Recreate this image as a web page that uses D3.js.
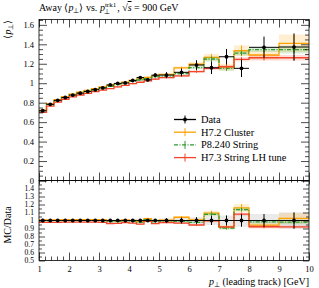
<!DOCTYPE html>
<html>
<head>
<meta charset="utf-8">
<script src="https://cdn.jsdelivr.net/npm/d3@7/dist/d3.min.js"></script>
<style>
  body { margin: 0; background: #fff; }
  svg { display: block; font-family: "Liberation Serif", serif; }
</style>
</head>
<body>
<script>
// bin edges (GeV)
var edges = [1, 1.25, 1.5, 1.75, 2, 2.25, 2.5, 2.75, 3, 3.25, 3.5, 3.75, 4, 4.25, 4.5, 4.75, 5,
             5.5, 6, 6.5, 7, 7.5, 8, 9, 10];

// measured <pT> per bin
var dataVals = [0.717, 0.783, 0.824, 0.853, 0.878, 0.898, 0.915, 0.933, 0.952, 0.982, 0.998, 1.003,
                1.028, 1.058, 1.035, 1.083, 1.084, 1.112, 1.187, 1.159, 1.272, 1.153, 1.369, 1.372];
var dataErr  = [0.015, 0.008, 0.007, 0.007, 0.007, 0.008, 0.008, 0.009, 0.010, 0.011, 0.012, 0.013,
                0.014, 0.015, 0.017, 0.020, 0.030, 0.040, 0.050, 0.065, 0.080, 0.090, 0.110, 0.140];

// generators
var h72Vals = [0.722, 0.789, 0.830, 0.862, 0.887, 0.908, 0.926, 0.943, 0.962, 0.978, 0.995, 1.012,
               1.030, 1.045, 1.060, 1.078, 1.090, 1.157, 1.195, 1.266, 1.166, 1.334, 1.290, 1.410];
var h72Err  = [0.003, 0.003, 0.003, 0.003, 0.003, 0.004, 0.004, 0.004, 0.005, 0.005, 0.006, 0.006,
               0.007, 0.008, 0.009, 0.010, 0.011, 0.015, 0.020, 0.035, 0.035, 0.055, 0.045, 0.090];
var p8Vals  = [0.715, 0.780, 0.822, 0.852, 0.878, 0.898, 0.915, 0.932, 0.950, 0.967, 0.985, 1.000,
               1.018, 1.033, 1.047, 1.065, 1.073, 1.100, 1.160, 1.249, 1.153, 1.310, 1.345, 1.345];
var p8Err   = [0.003, 0.003, 0.003, 0.003, 0.003, 0.003, 0.004, 0.004, 0.004, 0.005, 0.005, 0.006,
               0.006, 0.007, 0.008, 0.009, 0.010, 0.012, 0.016, 0.025, 0.025, 0.025, 0.025, 0.040];
var h73Vals = [0.700, 0.765, 0.805, 0.835, 0.860, 0.879, 0.896, 0.913, 0.930, 0.945, 0.962, 0.978,
               0.995, 1.010, 1.025, 1.042, 1.057, 1.075, 1.120, 1.153, 1.170, 1.245, 1.262, 1.262];
var h73Err  = [0.003, 0.003, 0.003, 0.003, 0.003, 0.003, 0.003, 0.004, 0.004, 0.004, 0.005, 0.005,
               0.006, 0.006, 0.007, 0.008, 0.009, 0.011, 0.013, 0.018, 0.018, 0.022, 0.028, 0.028];

var seriesNames = ['Data', 'H7.2 Cluster', 'P8.240 String', 'H7.3 String LH tune'];

// axis ticks
var xMajor = [1, 2, 3, 4, 5, 6, 7, 8, 9, 10];
var xMinor = [1.2, 1.4, 1.6, 1.8, 2.2, 2.4, 2.6, 2.8, 3.2, 3.4, 3.6, 3.8, 4.2, 4.4, 4.6, 4.8,
              5.2, 5.4, 5.6, 5.8, 6.2, 6.4, 6.6, 6.8, 7.2, 7.4, 7.6, 7.8, 8.2, 8.4, 8.6, 8.8,
              9.2, 9.4, 9.6, 9.8];
var yMainMajor = [0, 0.2, 0.4, 0.6, 0.8, 1, 1.2, 1.4, 1.6];
var yMainMinor = [0.05, 0.1, 0.15, 0.25, 0.3, 0.35, 0.45, 0.5, 0.55, 0.65, 0.7, 0.75, 0.85, 0.9, 0.95,
                  1.05, 1.1, 1.15, 1.25, 1.3, 1.35, 1.45, 1.5, 1.55, 1.65];
var yRatMajor = [0.5, 0.6, 0.7, 0.8, 0.9, 1, 1.1, 1.2, 1.3, 1.4, 1.5];
var yRatLabels = ['0.5', '0.6', '0.7', '0.8', '0.9', '1', '1.1', '1.2', '1.3', '1.4', ''];
var yRatMinor = [0.55, 0.65, 0.75, 0.85, 0.95, 1.05, 1.15, 1.25, 1.35, 1.45];

var colors = {data: '#000', h72: '#ffa200', p8: '#2e9a2e', h73: '#f2452a'};

(function() {

//setup canvas
var width = 319, height = 288;
var left = 39, right = 309, topY = 19.5, mid = 180.5, bottom = 260.5;

var svg = d3.select('body').append('svg')
    .attr('width', width)
    .attr('height', height);

var x = d3.scaleLinear().domain([1, 10]).range([left, right]);
var yMain = d3.scaleLinear().domain([0, 1.655]).range([mid, topY]);
var yRat = d3.scaleLinear().domain([0.5, 1.5]).range([bottom, mid]);

//build bin records
var bins = dataVals.map(function(v, i) {
    return {lo: edges[i], hi: edges[i + 1], c: (edges[i] + edges[i + 1]) / 2,
            d: v, de: dataErr[i],
            h72: h72Vals[i], h72e: h72Err[i],
            p8: p8Vals[i], p8e: p8Err[i],
            h73: h73Vals[i], h73e: h73Err[i]};
});

function stepPoints(getV, getE) {
    var pts = [];
    bins.forEach(function(b) {
        pts.push({x: b.lo, v: getV(b), e: getE(b)});
        pts.push({x: b.hi, v: getV(b), e: getE(b)});
    });
    return pts;
}

function drawMC(g, y, key, ratio, dash) {
    var getV = ratio ? function(b) { return b[key] / b.d; } : function(b) { return b[key]; };
    var getE = ratio ? function(b) { return b[key + 'e'] / b.d; } : function(b) { return b[key + 'e']; };
    var pts = stepPoints(getV, getE);
    var col = colors[key];

    g.append('path')
        .datum(pts)
        .attr('fill', col)
        .attr('fill-opacity', 0.18)
        .attr('d', d3.area().x(function(p) { return x(p.x); })
            .y0(function(p) { return y(p.v - p.e); })
            .y1(function(p) { return y(p.v + p.e); }));

    g.append('path')
        .datum(pts)
        .attr('fill', 'none')
        .attr('stroke', col)
        .attr('stroke-width', 1.3)
        .attr('stroke-dasharray', dash || null)
        .attr('d', d3.line().x(function(p) { return x(p.x); }).y(function(p) { return y(p.v); }));

    g.selectAll(null).data(bins).enter().append('line')
        .attr('stroke', col)
        .attr('stroke-width', 1)
        .attr('x1', function(b) { return x(b.c); })
        .attr('x2', function(b) { return x(b.c); })
        .attr('y1', function(b) { return y(getV(b) - getE(b)); })
        .attr('y2', function(b) { return y(getV(b) + getE(b)); });
}

function drawData(g, y, ratio) {
    var getV = ratio ? function() { return 1; } : function(b) { return b.d; };
    var getE = ratio ? function(b) { return b.de / b.d; } : function(b) { return b.de; };

    g.selectAll(null).data(bins).enter().append('line')
        .attr('stroke', '#000').attr('stroke-width', 1)
        .attr('x1', function(b) { return x(b.lo); })
        .attr('x2', function(b) { return x(b.hi); })
        .attr('y1', function(b) { return y(getV(b)); })
        .attr('y2', function(b) { return y(getV(b)); });

    g.selectAll(null).data(bins).enter().append('line')
        .attr('stroke', '#000').attr('stroke-width', 1)
        .attr('x1', function(b) { return x(b.c); })
        .attr('x2', function(b) { return x(b.c); })
        .attr('y1', function(b) { return y(getV(b) - getE(b)); })
        .attr('y2', function(b) { return y(getV(b) + getE(b)); });

    g.selectAll(null).data(bins).enter().append('circle')
        .attr('fill', '#000')
        .attr('r', 1.9)
        .attr('cx', function(b) { return x(b.c); })
        .attr('cy', function(b) { return y(getV(b)); });
}

//clip each panel
var defs = svg.append('defs');
defs.append('clipPath').attr('id', 'clipMain').append('rect')
    .attr('x', left).attr('y', topY).attr('width', right - left).attr('height', mid - topY);
defs.append('clipPath').attr('id', 'clipRat').append('rect')
    .attr('x', left).attr('y', mid).attr('width', right - left).attr('height', bottom - mid);

var gMain = svg.append('g').attr('clip-path', 'url(#clipMain)');
var gRat = svg.append('g').attr('clip-path', 'url(#clipRat)');

// data ratio band
gRat.append('path')
    .datum(stepPoints(function() { return 1; }, function(b) { return b.de / b.d; }))
    .attr('fill', '#d0d0d0').attr('fill-opacity', 0.45)
    .attr('d', d3.area().x(function(p) { return x(p.x); })
        .y0(function(p) { return yRat(p.v - p.e); })
        .y1(function(p) { return yRat(p.v + p.e); }));

drawMC(gMain, yMain, 'h72', false);
drawMC(gMain, yMain, 'p8', false, '4,1.5,1,1.5');
drawMC(gMain, yMain, 'h73', false);
drawData(gMain, yMain, false);

drawMC(gRat, yRat, 'h72', true);
drawMC(gRat, yRat, 'p8', true, '4,1.5,1,1.5');
drawMC(gRat, yRat, 'h73', true);
drawData(gRat, yRat, true);

//axes: inward ticks
function styleAxis(sel, fs) {
    sel.select('.domain').remove();
    sel.selectAll('.tick line').attr('stroke', '#000').attr('stroke-width', 0.7);
    sel.selectAll('.tick text').attr('font-size', fs || 8.5).attr('fill', '#000')
        .attr('font-family', '"Liberation Serif", serif');
}

function addAxis(axis, tx, ty, fs) {
    svg.append('g').attr('transform', 'translate(' + tx + ',' + ty + ')')
        .call(axis).call(styleAxis, fs);
}

var mainMinor = yMainMinor.filter(function(v) { return v < 1.655; });

// main panel y
addAxis(d3.axisLeft(yMain).tickValues(yMainMajor).tickSize(-8).tickPadding(5)
    .tickFormat(function(d) { return String(d); }), left, 0);
addAxis(d3.axisLeft(yMain).tickValues(mainMinor).tickSize(-4).tickFormat(''), left, 0);
addAxis(d3.axisRight(yMain).tickValues(yMainMajor).tickSize(-8).tickFormat(''), right, 0);
addAxis(d3.axisRight(yMain).tickValues(mainMinor).tickSize(-4).tickFormat(''), right, 0);
// main panel x (top and bottom)
addAxis(d3.axisTop(x).tickValues(xMajor).tickSize(-8).tickFormat(''), 0, topY);
addAxis(d3.axisTop(x).tickValues(xMinor).tickSize(-4).tickFormat(''), 0, topY);
addAxis(d3.axisBottom(x).tickValues(xMajor).tickSize(-8).tickFormat(''), 0, mid);
addAxis(d3.axisBottom(x).tickValues(xMinor).tickSize(-4).tickFormat(''), 0, mid);

// ratio panel y
addAxis(d3.axisLeft(yRat).tickValues(yRatMajor).tickSize(-6).tickPadding(5)
    .tickFormat(function(d, i) { return yRatLabels[i]; }), left, 0, 7.6);
addAxis(d3.axisLeft(yRat).tickValues(yRatMinor).tickSize(-3).tickFormat(''), left, 0);
addAxis(d3.axisRight(yRat).tickValues(yRatMajor).tickSize(-6).tickFormat(''), right, 0);
addAxis(d3.axisRight(yRat).tickValues(yRatMinor).tickSize(-3).tickFormat(''), right, 0);
// ratio panel x
addAxis(d3.axisTop(x).tickValues(xMajor).tickSize(-4).tickFormat(''), 0, mid);
addAxis(d3.axisTop(x).tickValues(xMinor).tickSize(-2).tickFormat(''), 0, mid);
addAxis(d3.axisBottom(x).tickValues(xMajor).tickSize(-8).tickPadding(5)
    .tickFormat(function(d) { return String(d); }), 0, bottom);
addAxis(d3.axisBottom(x).tickValues(xMinor).tickSize(-4).tickFormat(''), 0, bottom);

//frames
[[topY, mid], [mid, bottom]].forEach(function(r) {
    svg.append('rect')
        .attr('x', left).attr('y', r[0])
        .attr('width', right - left).attr('height', r[1] - r[0])
        .attr('fill', 'none').attr('stroke', '#000').attr('stroke-width', 0.8);
});

//title
var title = svg.append('text').attr('x', left).attr('y', 11).attr('font-size', 10);
title.append('tspan').text('Away \u27e8');
title.append('tspan').attr('font-style', 'italic').text('p');
title.append('tspan').attr('font-size', 7).attr('dy', 2).text('\u22a5');
title.append('tspan').attr('dy', -2).text('\u27e9 vs. ');
title.append('tspan').attr('font-style', 'italic').text('p');
title.append('tspan').attr('font-size', 7).attr('dy', -4).text('trk1');
title.append('tspan').attr('font-size', 7).attr('dx', -12).attr('dy', 7).text('\u22a5');
title.append('tspan').attr('dx', 7).attr('dy', -3).text(', \u221a');
title.append('tspan').attr('font-style', 'italic').attr('text-decoration', 'overline').text('s');
title.append('tspan').text(' = 900 GeV');

//axis labels
var xl = svg.append('text').attr('x', right).attr('y', 284.5)
    .attr('text-anchor', 'end').attr('font-size', 10);
xl.append('tspan').attr('font-style', 'italic').text('p');
xl.append('tspan').attr('font-size', 7).attr('dy', 2).text('\u22a5');
xl.append('tspan').attr('dy', -2).text(' (leading track) [GeV]');

var yl = svg.append('text').attr('transform', 'translate(11,' + topY + ') rotate(-90)')
    .attr('text-anchor', 'end').attr('font-size', 10);
yl.append('tspan').text('\u27e8');
yl.append('tspan').attr('font-style', 'italic').text('p');
yl.append('tspan').attr('font-size', 7).attr('dy', 2).text('\u22a5');
yl.append('tspan').attr('dy', -2).text('\u27e9');

svg.append('text').attr('transform', 'translate(11,225) rotate(-90)')
    .attr('text-anchor', 'middle').attr('font-size', 10).text('MC/Data');

//legend
var legend = [
    {name: seriesNames[0], col: colors.data, dot: true},
    {name: seriesNames[1], col: colors.h72},
    {name: seriesNames[2], col: colors.p8, dash: '4,1.5,1,1.5'},
    {name: seriesNames[3], col: colors.h73}
];
var lg = svg.selectAll('.leg').data(legend).enter().append('g')
    .attr('transform', function(d, i) { return 'translate(0,' + (119.5 + i * 12.7) + ')'; });
lg.append('line').attr('x1', 174).attr('x2', 196).attr('y1', 0).attr('y2', 0)
    .attr('stroke', function(d) { return d.col; }).attr('stroke-width', 1.3)
    .attr('stroke-dasharray', function(d) { return d.dash || null; });
lg.append('line').attr('x1', 185).attr('x2', 185).attr('y1', -4).attr('y2', 4)
    .attr('stroke', function(d) { return d.col; }).attr('stroke-width', 1);
lg.filter(function(d) { return d.dot; }).append('circle')
    .attr('cx', 185).attr('cy', 0).attr('r', 1.9).attr('fill', '#000');
lg.append('text').attr('x', 201).attr('y', 3.5).attr('font-size', 10.4)
    .text(function(d) { return d.name; });

})();
</script>
</body>
</html>
